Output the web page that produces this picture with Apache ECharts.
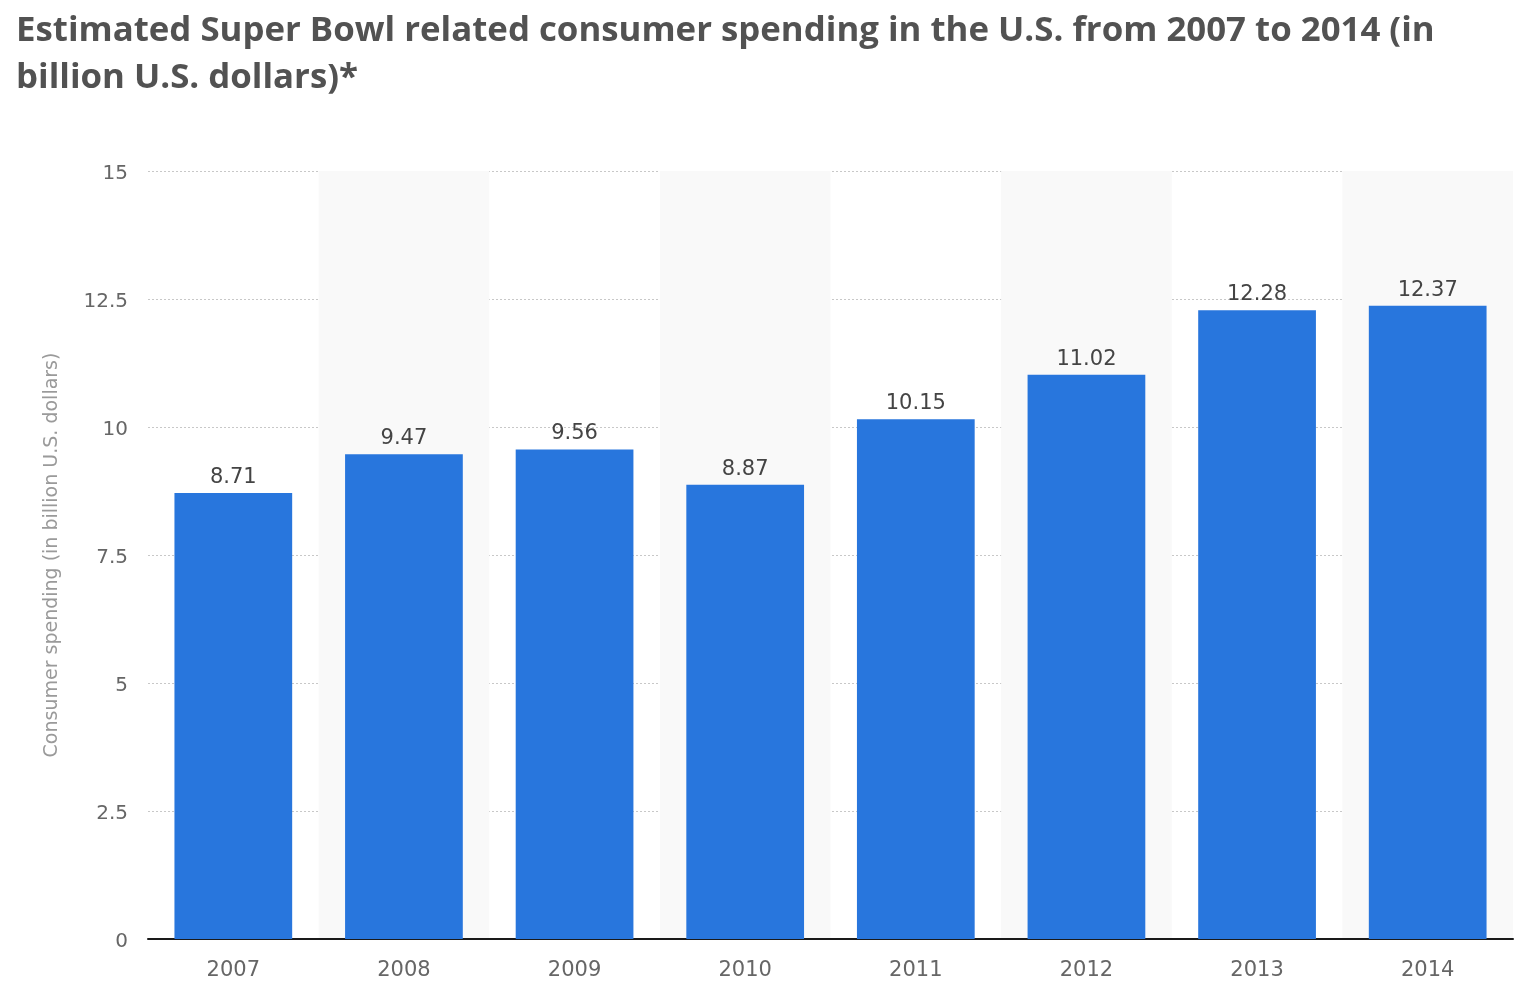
<!DOCTYPE html>
<html>
<head>
<meta charset="utf-8">
<script src="https://cdn.jsdelivr.net/npm/echarts@6/dist/echarts.min.js"></script>
<style>
html,body{margin:0;padding:0;background:#fff;}
#chart{width:1532px;height:1004px;}
</style>
</head>
<body>
<div id="chart"></div>
<script>
const titleText = 'Estimated Super Bowl related consumer spending in the U.S. from 2007 to 2014 (in\nbillion U.S. dollars)*';
const yAxisName = 'Consumer spending (in billion U.S. dollars)';
const years = ['2007','2008','2009','2010','2011','2012','2013','2014'];
const spending = [8.71, 9.47, 9.56, 8.87, 10.15, 11.02, 12.28, 12.37];
const yTicks = [0, 2.5, 5, 7.5, 10, 12.5, 15];

const chart = echarts.init(document.getElementById('chart'));
chart.setOption({
  animation: false,
  backgroundColor: '#ffffff',
  title: {
    text: titleText,
    left: 11,
    top: 3,
    textStyle: {
      fontFamily: "'Open Sans', sans-serif",
      fontWeight: 'bold',
      fontSize: 34.8,
      lineHeight: 47,
      color: '#525252'
    }
  },
  grid: { left: 148, right: 19, top: 171, bottom: 65, containLabel: false },
  xAxis: {
    type: 'category',
    data: years,
    axisLine: { lineStyle: { color: '#1a1a1a', width: 2 } },
    axisTick: { show: false },
    axisLabel: { color: '#666', fontSize: 21, margin: 21, fontFamily: "'DejaVu Sans', sans-serif" },
    splitArea: { show: true, areaStyle: { color: ['rgba(255,255,255,0)', '#f9f9f9'] } }
  },
  yAxis: {
    type: 'value',
    min: yTicks[0],
    max: yTicks[yTicks.length - 1],
    interval: 2.5,
    name: yAxisName,
    nameLocation: 'middle',
    nameGap: 86,
    nameTextStyle: { color: '#9a9a9a', fontSize: 19, fontFamily: "'DejaVu Sans', sans-serif" },
    axisLine: { show: false },
    axisTick: { show: false },
    axisLabel: { color: '#666', fontSize: 20, margin: 20, fontFamily: "'DejaVu Sans', sans-serif", lineHeight: 26, verticalAlign: 'top', padding: [-10, 0, 0, 0] },
    splitLine: { lineStyle: { color: '#c8c8c8', type: [2, 2], width: 1 } }
  },
  series: [{
    type: 'bar',
    data: spending,
    barWidth: '69%',
    itemStyle: { color: '#2876dd' },
    label: {
      show: true,
      position: 'top',
      distance: 5,
      color: '#444',
      fontSize: 21,
      fontFamily: "'DejaVu Sans', sans-serif"
    }
  }]
});
</script>
</body>
</html>
